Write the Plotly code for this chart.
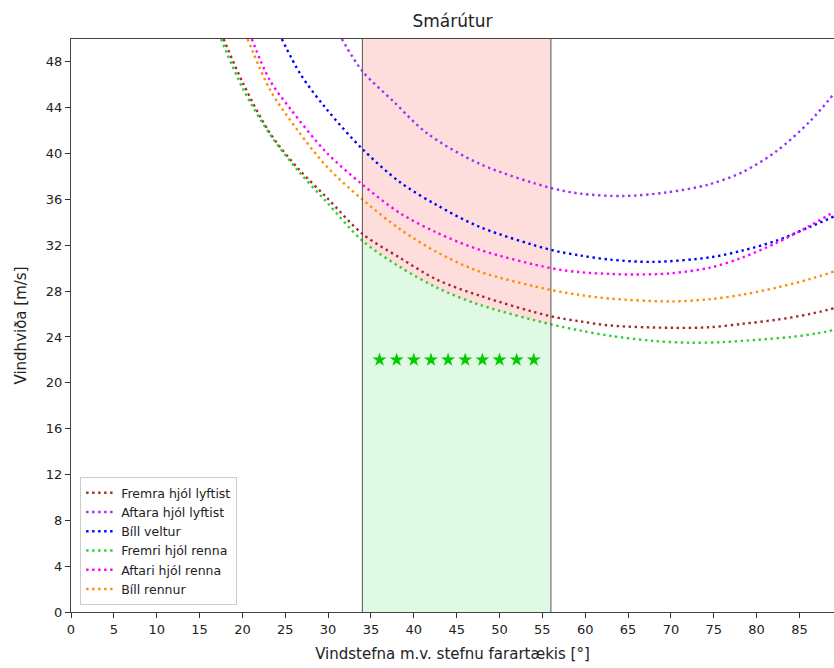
import plotly.graph_objects as go

# ---- data ----
title = "Smárútur"
x_label = "Vindstefna m.v. stefnu farartækis [°]"
y_label = "Vindhviða [m/s]"

x_ticks = list(range(0, 90, 5))
y_ticks = list(range(0, 50, 4))

# Fremra hjól lyftist (brown)
fremra_x = [17.8, 20.1, 23.2, 26.5, 29.8, 34.0, 38.4, 42.7, 47.7, 56.0, 59.5, 62.9, 69.9, 74.6, 78.4, 82.3, 86.2, 89.0]
fremra_y = [50.0, 46.1, 41.8, 38.7, 36.2, 33.0, 30.9, 29.0, 27.6, 25.8, 25.35, 25.0, 24.8, 24.85, 25.15, 25.5, 26.0, 26.5]

# Aftara hjól lyftist (purple)
aftara_x = [31.6, 34.0, 37.7, 41.5, 47.7, 56.0, 59.5, 64.4, 69.4, 74.4, 78.4, 82.3, 86.2, 89.0]
aftara_y = [50.0, 47.2, 44.5, 41.8, 39.1, 37.0, 36.5, 36.3, 36.6, 37.3, 38.4, 40.2, 42.8, 45.2]

# Bíll veltur (blue)
veltur_x = [24.6, 26.8, 29.8, 34.0, 38.4, 42.7, 47.7, 56.0, 59.5, 62.9, 67.9, 74.6, 78.4, 82.3, 86.2, 89.0]
veltur_y = [50.0, 46.9, 43.9, 40.4, 37.5, 35.5, 33.6, 31.6, 31.1, 30.75, 30.55, 30.95, 31.55, 32.4, 33.6, 34.5]

# Fremri hjól renna (green)
fremri_x = [17.5, 20.1, 23.2, 26.5, 29.8, 34.0, 38.4, 42.7, 47.7, 56.0, 59.5, 62.9, 68.0, 72.2, 76.0, 80.0, 84.0, 87.0, 89.0]
fremri_y = [50.0, 45.6, 41.7, 38.5, 35.8, 32.4, 30.1, 28.3, 26.8, 25.1, 24.55, 24.1, 23.65, 23.5, 23.55, 23.75, 24.0, 24.3, 24.6]

# Aftari hjól renna (magenta)
aftari_x = [21.1, 23.2, 25.6, 29.8, 34.0, 38.4, 42.7, 47.7, 56.0, 59.5, 62.9, 65.6, 69.9, 74.6, 78.4, 82.3, 86.2, 89.0]
aftari_y = [50.0, 46.4, 43.9, 40.1, 37.3, 34.8, 33.1, 31.6, 30.0, 29.65, 29.5, 29.45, 29.55, 30.05, 30.95, 32.2, 33.7, 34.9]

# Bíll rennur (orange)
rennur_x = [20.6, 23.2, 25.4, 29.8, 34.0, 38.4, 42.7, 47.7, 56.0, 59.5, 62.9, 69.9, 74.6, 78.4, 82.3, 86.2, 89.0]
rennur_y = [50.0, 45.6, 43.1, 38.9, 36.0, 33.4, 31.4, 29.7, 28.1, 27.65, 27.35, 27.1, 27.3, 27.7, 28.3, 29.05, 29.7]

# Zone and markers
zone_start = 34
zone_end = 56
y_top = 50
star_x = [36, 38, 40, 42, 44, 46, 48, 50, 52, 54]
star_y = [22] * 10

series = [
    ("Fremra hjól lyftist", fremra_x, fremra_y, "#A52A2A"),
    ("Aftara hjól lyftist", aftara_x, aftara_y, "#9B30FF"),
    ("Bíll veltur", veltur_x, veltur_y, "#0000FF"),
    ("Fremri hjól renna", fremri_x, fremri_y, "#32CD32"),
    ("Aftari hjól renna", aftari_x, aftari_y, "#FF00FF"),
    ("Bíll rennur", rennur_x, rennur_y, "#FF8C00"),
]

SMOOTH = 0.9

fig = go.Figure()

# green region below lowest curve inside the zone, red region above it
bx = [x for x in fremri_x if zone_start <= x <= zone_end]
by = [y for x, y in zip(fremri_x, fremri_y) if zone_start <= x <= zone_end]
fig.add_trace(go.Scatter(x=bx, y=by, mode="lines", line=dict(width=0, shape="spline", smoothing=SMOOTH),
                         fill="tozeroy", fillcolor="#DFF9E4", showlegend=False, hoverinfo="skip"))
fig.add_trace(go.Scatter(x=[zone_start, zone_end], y=[y_top, y_top], mode="lines", line=dict(width=0),
                         fill="tonexty", fillcolor="#FDDEDD", showlegend=False, hoverinfo="skip"))

for name, xs, ys, col in series:
    fig.add_trace(go.Scatter(x=xs, y=ys, mode="lines", name=name,
                             line=dict(color=col, width=2.4, dash="2.4px,3.6px",
                                       shape="spline", smoothing=SMOOTH)))

fig.add_trace(go.Scatter(x=star_x, y=star_y, mode="markers", showlegend=False,
                         marker=dict(symbol="star", size=10.5, color="#00CC00")))

for xv in (zone_start, zone_end):
    fig.add_shape(type="line", x0=xv, x1=xv, y0=0, y1=y_top, xref="x", yref="y",
                  line=dict(color="#555555", width=1), layer="above")

font = "DejaVu Sans, Arial, sans-serif"
fig.update_layout(
    width=834, height=668,
    margin=dict(l=71, r=0, t=39, b=56),
    paper_bgcolor="white", plot_bgcolor="white",
    font=dict(family=font, size=13, color="#222222"),
    title=dict(text=title, x=0.5, xanchor="center", y=0.968, yanchor="middle",
               xref="paper", font=dict(size=17, family=font, color="#222222")),
    xaxis=dict(range=[0, 89.03], tickvals=x_ticks, ticks="outside", ticklen=5, tickcolor="#333333",
               showgrid=False, zeroline=False, showline=True, linecolor="#444444", linewidth=1.2, mirror=True,
               title=dict(text=x_label, font=dict(size=15), standoff=12)),
    yaxis=dict(range=[0, y_top], tickvals=y_ticks, ticks="outside", ticklen=5, tickcolor="#333333",
               showgrid=False, zeroline=False, showline=True, linecolor="#444444", linewidth=1.2,
               title=dict(text=y_label, font=dict(size=15), standoff=15)),
    legend=dict(x=0.012, y=0.012, xanchor="left", yanchor="bottom", bgcolor="white",
                bordercolor="#CCCCCC", borderwidth=1, font=dict(size=12.5), tracegroupgap=0,
                itemwidth=30, traceorder="normal"),
    showlegend=True,
)

fig.write_html("out.html")
